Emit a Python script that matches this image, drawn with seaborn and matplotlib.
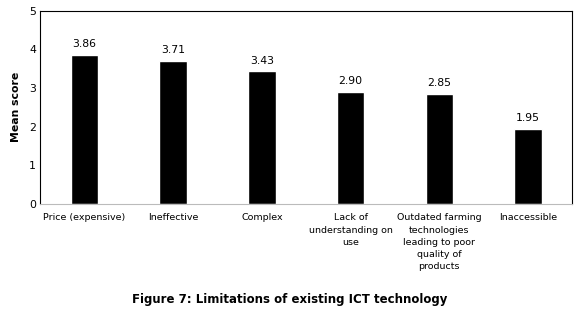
import matplotlib
matplotlib.use("Agg")
import matplotlib.pyplot as plt
import numpy as np
import pandas as pd
import seaborn as sns

categories = [
    "Price (expensive)",
    "Ineffective",
    "Complex",
    "Lack of\nunderstanding on\nuse",
    "Outdated farming\ntechnologies\nleading to poor\nquality of\nproducts",
    "Inaccessible",
]
mean_scores = [3.86, 3.71, 3.43, 2.90, 2.85, 1.95]
y_ticks = [0, 1, 2, 3, 4, 5]

df = pd.DataFrame({"category": categories, "score": mean_scores})

sns.set_style("white")
plt.rcParams["font.family"] = ["DejaVu Sans"]
plt.rcParams["text.color"] = "black"
plt.rcParams["xtick.color"] = "black"
plt.rcParams["ytick.color"] = "black"
plt.rcParams["axes.labelcolor"] = "black"

fig = plt.figure(figsize=(5.8, 3.11), dpi=100)
ax = fig.add_axes([0.069, 0.345, 0.918, 0.62])

sns.barplot(data=df, x="category", y="score", color="black", width=0.31,
            saturation=1, ax=ax)

for i, v in enumerate(mean_scores):
    ax.text(i, v + 0.14, f"{v:.2f}", ha="center", va="bottom", fontsize=7.8)

ax.set_ylim(0, 5)
ax.set_yticks(y_ticks)
ax.set_yticklabels([str(t) for t in y_ticks], fontsize=7.8)
ax.set_xticks(range(len(categories)))
ax.set_xticklabels(categories, fontsize=6.8, linespacing=1.45, va="top")
ax.tick_params(axis="y", length=0, pad=3)
ax.tick_params(axis="x", length=0, pad=7)
ax.set_xlabel("")
ax.set_ylabel("Mean score", fontsize=7.8, fontweight="bold", labelpad=6)

for s in ["left", "top", "right"]:
    ax.spines[s].set_color("black")
    ax.spines[s].set_linewidth(0.8)
ax.spines["bottom"].set_color("#bbbbbb")
ax.spines["bottom"].set_linewidth(0.8)

fig.text(0.5, 0.015, "Figure 7: Limitations of existing ICT technology",
         ha="center", va="bottom", fontsize=8.5, fontweight="bold")

fig.savefig("out.png", dpi=100)
